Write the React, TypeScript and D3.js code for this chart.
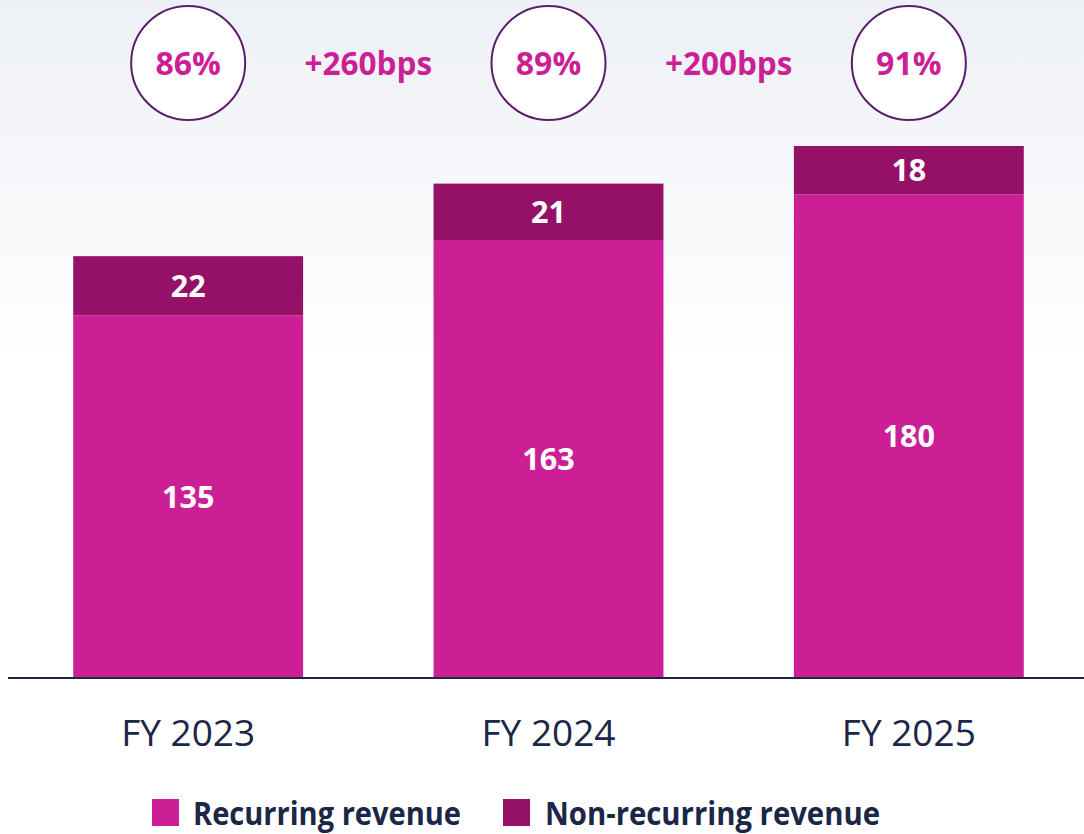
import React from "react";
import * as d3 from "d3";

const categories = ["FY 2023", "FY 2024", "FY 2025"];
const recurring = [135, 163, 180];
const nonRecurring = [22, 21, 18];
const shares = ["86%", "89%", "91%"];
const deltas = ["+260bps", "+200bps"];
const legendItems = ["Recurring revenue", "Non-recurring revenue"];

const W = 1084;
const H = 834;
const COL_REC = "#cc1f96";
const COL_NON = "#951167";
const NAVY = "#1b2747";
const FONT = "'Open Sans', 'Noto Sans', sans-serif";

export default function App() {
  const x = d3
    .scaleBand<string>()
    .domain(categories)
    .range([8, 1089])
    .paddingInner(0.362)
    .paddingOuter(0.181);
  const y = d3.scaleLinear().domain([0, 198]).range([678, 146]);

  const stacked = d3
    .stack<{ cat: string; rec: number; non: number }>()
    .keys(["rec", "non"])(
    categories.map((c, i) => ({ cat: c, rec: recurring[i], non: nonRecurring[i] }))
  );
  const colors = [COL_REC, COL_NON];
  const bw = x.bandwidth();
  const cx = (c: string) => (x(c) as number) + bw / 2;

  const legendPos = [
    { sq: 152, tx: 193, len: 268 },
    { sq: 503, tx: 545, len: 335 },
  ];

  return (
    <svg
      width={W}
      height={H}
      style={{ position: "absolute", left: 0, top: 0 }}
      fontFamily={FONT}
    >
      <defs>
        <linearGradient id="bg" x1="0" y1="0" x2="0" y2="1">
          <stop offset="0" stopColor="#edf0f5" />
          <stop offset="0.44" stopColor="#ffffff" />
          <stop offset="1" stopColor="#ffffff" />
        </linearGradient>
      </defs>
      <rect x={0} y={0} width={W} height={H} fill="url(#bg)" />

      {stacked.map((layer, li) => (
        <g key={li}>
          {layer.map((d, i) => (
            <g key={i}>
              <rect
                x={x(categories[i])}
                y={y(d[1])}
                width={bw}
                height={y(d[0]) - y(d[1])}
                fill={colors[li]}
              />
              <text
                x={cx(categories[i])}
                y={(y(d[0]) + y(d[1])) / 2}
                dy="0.36em"
                textAnchor="middle"
                fill="#ffffff"
                fontWeight={700}
                fontSize={30.5}
              >
                {d[1] - d[0]}
              </text>
            </g>
          ))}
        </g>
      ))}

      <line x1={8} x2={W} y1={678} y2={678} stroke={NAVY} strokeWidth={2} />

      {categories.map((c) => (
        <text
          key={c}
          x={cx(c)}
          y={746}
          textAnchor="middle"
          fill={NAVY}
          fontSize={37}
        >
          {c}
        </text>
      ))}

      {categories.map((c, i) => (
        <g key={c}>
          <circle cx={cx(c)} cy={63} r={57} fill="#ffffff" stroke="#5a1f6a" strokeWidth={2} />
          <text
            x={cx(c)}
            y={75}
            textAnchor="middle"
            fill={COL_REC}
            fontWeight={700}
            fontSize={32}
          >
            {shares[i]}
          </text>
        </g>
      ))}

      {deltas.map((d, i) => (
        <text
          key={d}
          x={(cx(categories[i]) + cx(categories[i + 1])) / 2}
          y={75}
          textAnchor="middle"
          fill={COL_REC}
          fontWeight={700}
          fontSize={31.5}
        >
          {d}
        </text>
      ))}

      {legendItems.map((t, i) => (
        <g key={t}>
          <rect x={legendPos[i].sq} y={799} width={27} height={27} fill={colors[i]} />
          <text
            x={legendPos[i].tx}
            y={825}
            fill={NAVY}
            fontWeight={700}
            fontSize={32}
            textLength={legendPos[i].len}
            lengthAdjust="spacingAndGlyphs"
          >
            {t}
          </text>
        </g>
      ))}
    </svg>
  );
}
